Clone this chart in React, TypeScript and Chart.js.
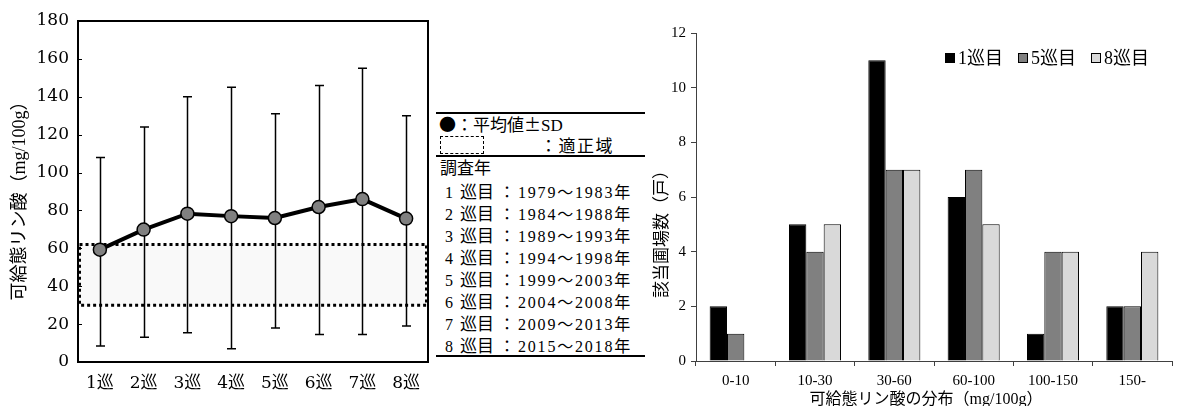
import React, { useEffect, useRef } from 'react';
import { Chart, registerables } from 'chart.js';

Chart.register(...registerables);

// Left panel: mean available phosphate per survey round, with ±SD range
const rounds = ['1巡', '2巡', '3巡', '4巡', '5巡', '6巡', '7巡', '8巡'];
const meanP = [59.3, 69.9, 78.3, 77, 76, 81.8, 86, 75.7];
const sdHigh = [108, 124, 140, 145, 131, 146, 155, 130];
const sdLow = [8.5, 13, 15.5, 7, 18, 14.5, 14.5, 19];
const optimalRange = [30, 62];
const leftTicks = { min: 0, max: 180, step: 20 };

// Survey period table
const roundNumbers = ['1', '2', '3', '4', '5', '6', '7', '8'];
const surveyYears = [
  '1979～1983年',
  '1984～1988年',
  '1989～1993年',
  '1994～1998年',
  '1999～2003年',
  '2004～2008年',
  '2009～2013年',
  '2015～2018年',
];

// Right panel: number of fields per phosphate class
const classes = ['0-10', '10-30', '30-60', '60-100', '100-150', '150-'];
const round1Counts = [2, 5, 11, 6, 1, 2];
const round5Counts = [1, 4, 7, 7, 4, 2];
const round8Counts = [0, 5, 7, 5, 4, 4];
const seriesNames = ['1巡目', '5巡目', '8巡目'];
const seriesColors = ['#000000', '#808080', '#d9d9d9'];
const rightTicks = { min: 0, max: 12, step: 2 };

const SERIF = '"DejaVu Serif", "Noto Sans CJK JP", serif';
const MIXED = '"Liberation Serif", "Noto Sans CJK JP", serif';
const CJK = '"Noto Sans CJK JP", sans-serif';

const leftDecor = {
  id: 'leftDecor',
  beforeDatasetsDraw(chart: any) {
    const { ctx, chartArea: a, scales } = chart;
    const x = scales.x;
    const y = scales.y;
    ctx.save();
    // optimal range band
    const top = y.getPixelForValue(optimalRange[1]);
    const bot = y.getPixelForValue(optimalRange[0]);
    ctx.fillStyle = '#f9f9f9';
    ctx.fillRect(a.left, top, a.right - a.left, bot - top);
    ctx.setLineDash([3, 3]);
    ctx.lineWidth = 3;
    ctx.strokeStyle = '#000';
    ctx.strokeRect(a.left + 1.5, top, a.right - a.left - 3, bot - top);
    ctx.setLineDash([]);
    // SD whiskers
    ctx.lineWidth = 1.5;
    for (let i = 0; i < meanP.length; i++) {
      const px = Math.round(x.getPixelForValue(i)) + 0.5;
      const hi = y.getPixelForValue(sdHigh[i]);
      const lo = y.getPixelForValue(sdLow[i]);
      ctx.beginPath();
      ctx.moveTo(px, hi);
      ctx.lineTo(px, lo);
      ctx.moveTo(px - 4.5, hi);
      ctx.lineTo(px + 4.5, hi);
      ctx.moveTo(px - 4.5, lo);
      ctx.lineTo(px + 4.5, lo);
      ctx.stroke();
    }
    ctx.restore();
  },
  afterDraw(chart: any) {
    const { ctx, chartArea: a, scales } = chart;
    const y = scales.y;
    ctx.save();
    ctx.strokeStyle = '#000';
    ctx.lineWidth = 2;
    ctx.strokeRect(a.left, a.top, a.right - a.left, a.bottom - a.top);
    // inward tick marks
    ctx.lineWidth = 1;
    y.ticks.forEach((t: any) => {
      const py = Math.round(y.getPixelForValue(t.value)) + 0.5;
      ctx.beginPath();
      ctx.moveTo(a.left, py);
      ctx.lineTo(a.left + 4, py);
      ctx.stroke();
    });
    // axis title
    ctx.fillStyle = '#000';
    ctx.font = `18px ${MIXED}`;
    ctx.textAlign = 'center';
    ctx.textBaseline = 'middle';
    ctx.translate(20, (a.top + a.bottom) / 2 + 5);
    ctx.rotate(-Math.PI / 2);
    ctx.fillText('可給態リン酸（mg/100g）', 0, 0);
    ctx.restore();
  },
};

const rightDecor = {
  id: 'rightDecor',
  afterDraw(chart: any) {
    const { ctx, chartArea: a } = chart;
    ctx.save();
    ctx.fillStyle = '#000';
    // y axis title
    ctx.font = `17px ${MIXED}`;
    ctx.textAlign = 'center';
    ctx.textBaseline = 'middle';
    ctx.save();
    ctx.translate(23, (a.top + a.bottom) / 2 + 33);
    ctx.rotate(-Math.PI / 2);
    ctx.fillText('該当圃場数（戸）', 0, 0);
    ctx.restore();
    // x axis title
    ctx.font = `16px ${MIXED}`;
    ctx.fillText('可給態リン酸の分布（mg/100g）', (a.left + a.right) / 2 - 8, 400);
    // legend
    ctx.font = `18px ${MIXED}`;
    ctx.textAlign = 'left';
    let lx = 305;
    const ly = 58;
    chart.data.datasets.forEach((ds: any) => {
      ctx.fillStyle = ds.backgroundColor;
      ctx.fillRect(lx, ly - 5, 10, 10);
      ctx.strokeStyle = '#000';
      ctx.lineWidth = 1;
      ctx.strokeRect(lx + 0.5, ly - 4.5, 9, 9);
      ctx.fillStyle = '#000';
      ctx.fillText(ds.label, lx + 13, ly + 1);
      lx += 13 + ctx.measureText(ds.label).width + 15;
    });
    ctx.restore();
  },
};

function LeftChart() {
  const ref = useRef<HTMLCanvasElement>(null);
  useEffect(() => {
    const chart = new Chart(ref.current as HTMLCanvasElement, {
      type: 'line',
      data: {
        labels: rounds,
        datasets: [
          {
            label: '平均値',
            data: meanP,
            borderColor: '#000',
            borderWidth: 4,
            tension: 0,
            pointRadius: 6.5,
            pointBackgroundColor: '#808080',
            pointBorderColor: '#000',
            pointBorderWidth: 1.5,
          },
        ],
      },
      options: {
        responsive: false,
        animation: false,
        layout: { padding: { top: 21, right: 4, left: 0, bottom: 0 } },
        plugins: { legend: { display: false }, tooltip: { enabled: false } },
        scales: {
          x: {
            type: 'category',
            offset: true,
            grid: { display: false, drawTicks: false },
            border: { display: false },
            ticks: { color: '#000', padding: 11, font: { family: SERIF, size: 17 } },
            afterFit: (s: any) => {
              s.height = 44;
            },
          },
          y: {
            min: leftTicks.min,
            max: leftTicks.max,
            grid: { display: false, drawTicks: false },
            border: { display: false },
            ticks: {
              stepSize: leftTicks.step,
              color: '#000',
              padding: 9,
              font: { family: SERIF, size: 17 },
            },
            afterFit: (s: any) => {
              s.width = 78;
            },
          },
        },
      },
      plugins: [leftDecor],
    } as any);
    return () => chart.destroy();
  }, []);
  return <canvas ref={ref} width={436} height={406} style={{ display: 'block' }} />;
}

function RightChart() {
  const ref = useRef<HTMLCanvasElement>(null);
  useEffect(() => {
    const counts = [round1Counts, round5Counts, round8Counts];
    const chart = new Chart(ref.current as HTMLCanvasElement, {
      type: 'bar',
      data: {
        labels: classes,
        datasets: counts.map((c, i) => ({
          label: seriesNames[i],
          data: c,
          backgroundColor: seriesColors[i],
          borderColor: '#000',
          borderWidth: 1,
          categoryPercentage: 0.656,
          barPercentage: 1,
        })),
      },
      options: {
        responsive: false,
        animation: false,
        layout: { padding: { top: 33, right: 23, left: 0, bottom: 0 } },
        plugins: { legend: { display: false }, tooltip: { enabled: false } },
        scales: {
          x: {
            grid: {
              offset: true,
              drawOnChartArea: false,
              drawTicks: true,
              tickLength: 5,
              color: '#404040',
            },
            border: { color: '#404040', width: 1 },
            ticks: { color: '#000', padding: 6, font: { family: MIXED, size: 15 } },
            afterFit: (s: any) => {
              s.height = 45;
            },
          },
          y: {
            min: rightTicks.min,
            max: rightTicks.max,
            grid: { drawOnChartArea: false, drawTicks: true, tickLength: 5, color: '#404040' },
            border: { color: '#404040', width: 1 },
            ticks: {
              stepSize: rightTicks.step,
              color: '#000',
              padding: 5,
              font: { family: MIXED, size: 15 },
            },
            afterFit: (s: any) => {
              s.width = 56;
            },
          },
        },
      },
      plugins: [rightDecor],
    } as any);
    return () => chart.destroy();
  }, []);
  return <canvas ref={ref} width={555} height={406} style={{ display: 'block' }} />;
}

const textBase: React.CSSProperties = {
  position: 'absolute',
  fontFamily: MIXED,
  fontSize: 16,
  lineHeight: '22px',
  color: '#000',
  whiteSpace: 'nowrap',
};

const rule = (top: number): React.CSSProperties => ({
  position: 'absolute',
  left: 436,
  width: 209,
  top,
  height: 2,
  background: '#000',
});

function SurveyTable() {
  return (
    <>
      <div style={rule(112)} />
      <div style={{ ...textBase, left: 439, top: 113, fontSize: 17 }}>
        <span style={{ fontFamily: CJK, fontSize: 17 }}>●</span>
        <span style={{ fontFamily: CJK }}>：</span>平均値
        <span style={{ fontFamily: CJK }}>±</span>SD
      </div>
      <div
        style={{
          position: 'absolute',
          left: 440,
          top: 136,
          width: 42,
          height: 16,
          border: '1px dashed #000',
        }}
      />
      <div style={{ ...textBase, left: 540, top: 136, fontSize: 17, letterSpacing: 1.5 }}>
        ：適正域
      </div>
      <div style={rule(155)} />
      <div style={{ ...textBase, left: 440, top: 158, fontSize: 17 }}>調査年</div>
      {roundNumbers.map((n, i) => {
        const top = 181.6 + i * 22.1;
        return (
          <React.Fragment key={n}>
            <div style={{ ...textBase, left: 445, top }}>{n}</div>
            <div style={{ ...textBase, left: 460, top, fontSize: 17 }}>巡目</div>
            <div style={{ ...textBase, left: 499, top }}>：</div>
            <div style={{ ...textBase, left: 518, top, letterSpacing: 1.8 }}>{surveyYears[i]}</div>
          </React.Fragment>
        );
      })}
      <div style={rule(355)} />
    </>
  );
}

export default function App() {
  return (
    <div
      style={{
        position: 'absolute',
        left: 0,
        top: 0,
        width: 1195,
        height: 406,
        background: '#fff',
        overflow: 'hidden',
      }}
    >
      <div style={{ position: 'absolute', left: 0, top: 0 }}>
        <LeftChart />
      </div>
      <SurveyTable />
      <div style={{ position: 'absolute', left: 640, top: 0 }}>
        <RightChart />
      </div>
    </div>
  );
}
